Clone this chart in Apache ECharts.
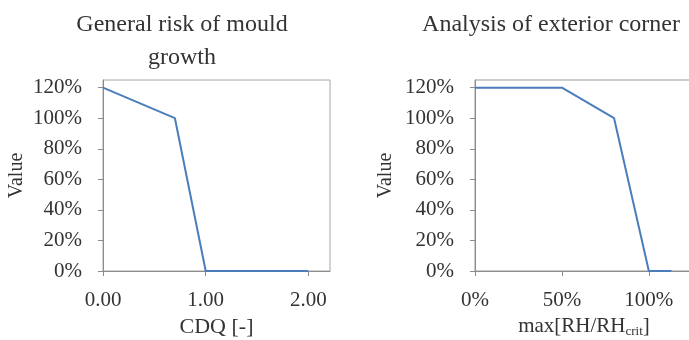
<!DOCTYPE html>
<html>
<head>
<meta charset="utf-8">
<script src="https://cdn.jsdelivr.net/npm/echarts@6/dist/echarts.min.js"></script>
<style>
  html, body { margin: 0; padding: 0; background: #fff; }
  #main { width: 689px; height: 340px; }
</style>
</head>
<body>
<div id="main"></div>
<script>
// left chart: risk vs CDQ
const cdqX = [0, 0.7, 1.0, 2.0];
const cdqRisk = [1.2, 1.0, 0, 0];
const cdqTicks = [0, 1, 2];

// right chart: risk vs max[RH/RHcrit]
const rhX = [0, 0.5, 0.8, 1.0, 1.13];
const rhRisk = [1.2, 1.2, 1.0, 0, 0];
const rhTicks = [0, 0.5, 1.0];

const valueTicks = [0, 0.2, 0.4, 0.6, 0.8, 1.0, 1.2];

const titles = ['General risk of mould\ngrowth', 'Analysis of exterior corner'];

const font = '"Liberation Serif", "DejaVu Serif", serif';
const txt = '#333';
const lineBlue = '#4a7ebb';

const pct = v => Math.round(v * 100) + '%';

function yAxisFor(idx, gap) {
    return {
        type: 'value', gridIndex: idx, min: 0, max: 1.25,
        name: 'Value', nameLocation: 'middle', nameGap: gap,
        nameTextStyle: { fontFamily: font, fontSize: 20, color: txt },
        axisLine: { show: true, lineStyle: { color: '#8c8c8c', width: 1 } },
        axisTick: { show: true, length: 5, customValues: valueTicks, lineStyle: { color: '#8c8c8c' } },
        axisLabel: { customValues: valueTicks, formatter: pct, margin: 21,
            fontFamily: font, fontSize: 21, color: txt },
        splitLine: { show: false }
    };
}

const chart = echarts.init(document.getElementById('main'));
chart.setOption({
    animation: false,
    backgroundColor: '#fff',
    title: [
        { text: titles[0], left: 177, top: 3, textAlign: 'center',
          textStyle: { fontFamily: font, fontSize: 24, fontWeight: 'normal', color: txt, lineHeight: 33 } },
        { text: titles[1], left: 546, top: 3, textAlign: 'center',
          textStyle: { fontFamily: font, fontSize: 24, fontWeight: 'normal', color: txt, lineHeight: 33 } }
    ],
    grid: [
        { left: 103, top: 80, width: 227, height: 191, outerBoundsMode: 'none',
          show: true, borderColor: '#a6a6a6', borderWidth: 1 },
        { left: 475, top: 80, width: 226, height: 191, outerBoundsMode: 'none',
          show: true, borderColor: '#999', borderWidth: 1 }
    ],
    xAxis: [
        {
            type: 'value', gridIndex: 0, min: 0, max: 2.21,
            name: 'CDQ [-]', nameLocation: 'middle', nameGap: 44,
            nameTextStyle: { fontFamily: font, fontSize: 22, color: txt },
            axisLine: { show: true, onZero: false, lineStyle: { color: '#8c8c8c' } },
            axisTick: { show: true, length: 5, customValues: cdqTicks, lineStyle: { color: '#8c8c8c' } },
            axisLabel: { customValues: cdqTicks, formatter: v => v.toFixed(2), margin: 19,
                fontFamily: font, fontSize: 21, color: txt },
            splitLine: { show: false }
        },
        {
            type: 'value', gridIndex: 1, min: 0, max: 1.3,
            name: '{n|max[RH/RH}{s|crit}{n|]}', nameLocation: 'middle', nameGap: 44,
            nameTextStyle: { fontFamily: font, fontSize: 21, color: txt, padding: [0, 8, 0, 0],
                rich: {
                    n: { fontFamily: font, fontSize: 21, color: txt },
                    s: { fontFamily: font, fontSize: 13, color: txt, padding: [10, 0, 0, 0] }
                } },
            axisLine: { show: true, onZero: false, lineStyle: { color: '#8c8c8c' } },
            axisTick: { show: true, length: 5, customValues: rhTicks, lineStyle: { color: '#8c8c8c' } },
            axisLabel: { customValues: rhTicks, formatter: pct, margin: 19,
                fontFamily: font, fontSize: 21, color: txt },
            splitLine: { show: false }
        }
    ],
    yAxis: [yAxisFor(0, 76), yAxisFor(1, 79)],
    series: [
        { type: 'line', xAxisIndex: 0, yAxisIndex: 0, showSymbol: false,
          lineStyle: { color: lineBlue, width: 2 },
          data: cdqX.map((x, i) => [x, cdqRisk[i]]) },
        { type: 'line', xAxisIndex: 1, yAxisIndex: 1, showSymbol: false,
          lineStyle: { color: lineBlue, width: 2 },
          data: rhX.map((x, i) => [x, rhRisk[i]]) }
    ]
});
</script>
</body>
</html>
